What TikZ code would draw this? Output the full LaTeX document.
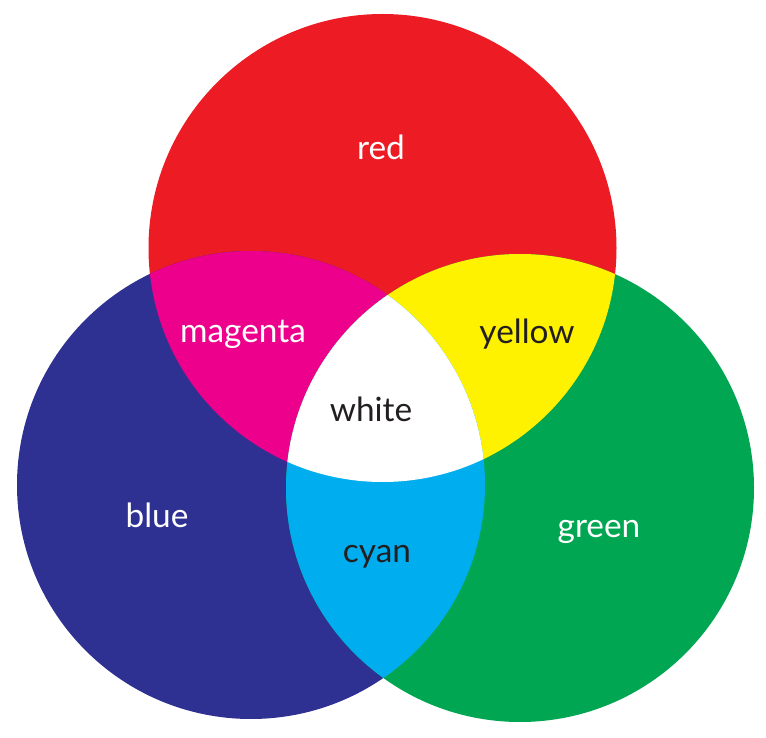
\documentclass[tikz,border=0pt]{standalone}
\usepackage{fontspec}
\setmainfont{Lato}
\usepackage{tikz}
\usetikzlibrary{positioning}

\definecolor{rgbred}{HTML}{ED1C24}
\definecolor{rgbblue}{HTML}{2E3192}
\definecolor{rgbgreen}{HTML}{00A651}
\definecolor{rgbmagenta}{HTML}{EC008C}
\definecolor{rgbyellow}{HTML}{FFF200}
\definecolor{rgbcyan}{HTML}{00AEEF}
\definecolor{inkdark}{HTML}{231F20}

\begin{document}
\begin{tikzpicture}[
    every node/.style={font=\fontsize{19}{22}\selectfont},
    light/.style={text=white},
    dark/.style={text=inkdark}
]
\useasboundingbox (0,0) rectangle (15.32,-14.76);
\coordinate (c_red) at (7.65,-4.96);
\coordinate (c_blue) at (5.02,-9.70);
\coordinate (c_green) at (10.40,-9.76);
\def\rad{4.68}

% primary circles
\fill[rgbred] (c_red) circle (\rad);
\fill[rgbblue] (c_blue) circle (\rad);
\fill[rgbgreen] (c_green) circle (\rad);

% pairwise overlaps
\begin{scope}
  \clip (c_red) circle (\rad);
  \fill[rgbmagenta] (c_blue) circle (\rad);
  \fill[rgbyellow] (c_green) circle (\rad);
\end{scope}
\begin{scope}
  \clip (c_blue) circle (\rad);
  \fill[rgbcyan] (c_green) circle (\rad);
\end{scope}

% centre
\begin{scope}
  \clip (c_red) circle (\rad);
  \clip (c_blue) circle (\rad);
  \fill[white] (c_green) circle (\rad);
\end{scope}

\node[light] (l_red) at (7.62,-2.94) {red};
\node[light] (l_magenta) at (4.86,-6.68) {magenta};
\node[dark] (l_yellow) at (10.54,-6.68) {yellow};
\node[dark] (l_white) at (7.42,-8.18) {white};
\node[light] (l_blue) at (3.14,-10.30) {blue};
\node[dark] (l_cyan) at (7.54,-11.14) {cyan};
\node[light] (l_green) at (11.98,-10.64) {green};
\end{tikzpicture}
\end{document}
